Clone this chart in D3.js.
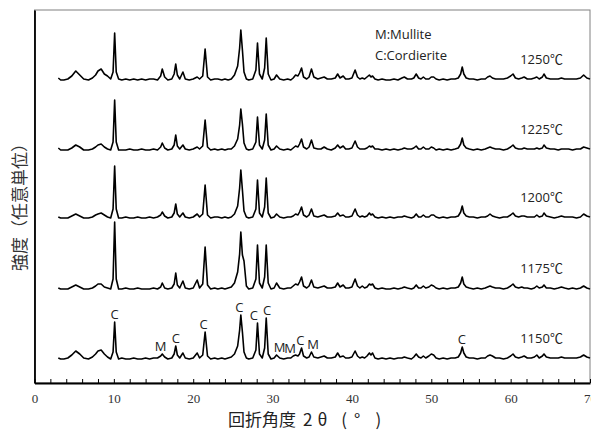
<!DOCTYPE html>
<html>
<head>
<meta charset="utf-8">
<script src="https://cdn.jsdelivr.net/npm/d3@7"></script>
<style>
  body { margin: 0; background: #fff; }
  svg { display: block; }
</style>
</head>
<body>
<svg id="chart"></svg>
<script>
// 2θ sample positions shared by all patterns
const angles = [
  3.0, 3.3, 3.7, 4.2, 4.7, 5.2, 5.7, 6.2, 6.8, 7.3,
  7.7, 8.0, 8.4, 8.8, 9.2, 9.6, 9.9, 10.1, 10.3, 10.6,
  11.0, 11.5, 12.0, 12.5, 13.0, 13.5, 14.0, 14.5, 15.0, 15.5,
  15.9, 16.1, 16.4, 16.8, 17.3, 17.6, 17.8, 18.0, 18.3, 18.7,
  19.0, 19.5, 20.0, 20.5, 20.8, 21.2, 21.5, 21.8, 22.2, 22.7,
  23.1, 23.6, 24.0, 24.4, 24.8, 25.2, 25.6, 25.85, 26.0, 26.2,
  26.4, 26.7, 27.0, 27.5, 27.9, 28.1, 28.35, 28.7, 29.0, 29.2,
  29.45, 29.8, 30.2, 30.5, 30.9, 31.4, 31.9, 32.3, 32.6, 32.9,
  33.2, 33.4, 33.65, 33.9, 34.3, 34.6, 34.9, 35.2, 35.7, 36.1,
  36.5, 36.9, 37.4, 37.9, 38.2, 38.5, 38.9, 39.2, 39.6, 40.0,
  40.4, 40.7, 41.0, 41.3, 41.6, 41.9, 42.2, 42.4, 42.6, 42.9,
  43.3, 43.8, 44.3, 44.8, 45.3, 45.8, 46.3, 46.6, 47.0, 47.5,
  47.8, 48.1, 48.4, 48.7, 49.0, 49.3, 49.7, 50.0, 50.3, 50.6,
  51.0, 51.5, 52.0, 52.5, 53.0, 53.4, 53.7, 53.9, 54.1, 54.4,
  54.8, 55.3, 55.8, 56.3, 56.8, 57.1, 57.4, 57.7, 58.1, 58.6,
  59.1, 59.6, 60.0, 60.3, 60.6, 61.0, 61.4, 61.7, 62.1, 62.6,
  63.0, 63.3, 63.6, 64.0, 64.2, 64.5, 65.0, 65.5, 66.0, 66.4,
  66.8, 67.3, 67.8, 68.3, 68.8, 69.2, 69.6, 70.0
]

// intensity above each pattern's own baseline (arbitrary units)
const i1150 = [
  1, 0, 0, 1, 4, 8, 5, 1, 0, 2,
  5, 8, 9, 5, 2, 0, 7, 37, 7, 0,
  1, 0, 0, 1, 0, 0, 1, 0, 1, 1,
  3, 5, 2, 0, 1, 5, 13, 4, 1, 6,
  1, 0, 1, 6, 1, 4, 27, 3, 0, 1,
  0, 1, 0, 1, 2, 5, 13, 29, 44, 27,
  7, 1, 0, 1, 9, 36, 5, 1, 11, 41,
  5, 0, 1, 4, 1, 0, 1, 1, 3, 4,
  3, 5, 11, 3, 1, 2, 7, 2, 1, 2,
  3, 1, 1, 2, 6, 2, 3, 1, 1, 2,
  8, 3, 1, 2, 1, 3, 6, 4, 6, 1,
  0, 1, 0, 1, 0, 1, 1, 2, 1, 0,
  2, 5, 2, 1, 3, 1, 3, 5, 4, 1,
  0, 1, 0, 1, 1, 2, 6, 12, 6, 2,
  1, 1, 0, 1, 1, 3, 4, 3, 1, 1,
  0, 1, 3, 5, 2, 1, 2, 3, 1, 1,
  2, 4, 1, 3, 5, 2, 1, 1, 1, 2,
  1, 1, 1, 1, 2, 4, 2, 1
]
const i1175 = [
  1, 0, 0, 0, 2, 4, 2, 0, 0, 1,
  3, 5, 5, 2, 1, 0, 10, 67, 10, 0,
  0, 1, 0, 0, 1, 0, 0, 0, 1, 0,
  2, 6, 1, 0, 1, 5, 16, 4, 1, 8,
  1, 0, 1, 9, 1, 5, 42, 4, 0, 1,
  0, 1, 0, 1, 2, 6, 17, 35, 57, 34,
  28, 3, 0, 1, 10, 44, 6, 1, 12, 44,
  6, 0, 1, 6, 1, 0, 1, 1, 3, 5,
  4, 7, 12, 3, 1, 3, 9, 2, 1, 2,
  3, 1, 1, 2, 6, 2, 4, 1, 1, 2,
  10, 3, 1, 3, 1, 2, 5, 4, 5, 1,
  0, 1, 0, 0, 1, 0, 1, 2, 1, 0,
  1, 4, 1, 1, 3, 1, 2, 4, 3, 1,
  0, 1, 0, 1, 1, 2, 6, 12, 5, 2,
  1, 0, 1, 0, 1, 2, 3, 2, 1, 1,
  0, 1, 3, 5, 2, 1, 2, 1, 1, 0,
  1, 3, 1, 2, 4, 1, 1, 0, 1, 2,
  1, 0, 1, 0, 1, 3, 1, 0
]
const i1200 = [
  1, 0, 0, 0, 2, 4, 2, 0, 0, 1,
  3, 4, 5, 3, 1, 0, 9, 52, 9, 0,
  0, 1, 0, 0, 1, 0, 0, 1, 0, 1,
  3, 6, 2, 0, 1, 5, 14, 4, 1, 5,
  1, 0, 1, 4, 1, 4, 33, 3, 0, 1,
  1, 0, 1, 0, 1, 4, 12, 30, 48, 28,
  7, 1, 0, 1, 9, 38, 5, 1, 11, 40,
  5, 0, 1, 4, 1, 0, 1, 1, 2, 4,
  3, 6, 11, 3, 1, 3, 9, 2, 1, 2,
  3, 1, 1, 2, 5, 2, 3, 1, 1, 2,
  9, 3, 1, 2, 1, 2, 5, 3, 4, 1,
  0, 1, 0, 1, 0, 1, 1, 2, 1, 0,
  1, 4, 1, 1, 3, 1, 1, 3, 3, 1,
  0, 1, 0, 1, 1, 2, 6, 12, 5, 2,
  1, 1, 0, 1, 1, 2, 4, 2, 1, 0,
  1, 1, 3, 5, 2, 1, 2, 2, 1, 1,
  1, 3, 1, 2, 5, 2, 1, 0, 1, 2,
  1, 1, 1, 0, 1, 4, 2, 1
]
const i1225 = [
  2, 0, 0, 0, 2, 5, 3, 0, 0, 1,
  3, 5, 6, 3, 1, 0, 8, 50, 8, 0,
  0, 0, 1, 0, 0, 1, 0, 0, 1, 0,
  3, 7, 2, 0, 1, 5, 15, 4, 1, 5,
  1, 0, 1, 3, 1, 4, 30, 3, 0, 1,
  0, 1, 0, 1, 1, 4, 11, 25, 41, 26,
  7, 1, 0, 1, 8, 33, 5, 1, 10, 36,
  5, 0, 1, 4, 1, 0, 1, 0, 2, 4,
  3, 6, 11, 3, 1, 3, 10, 2, 1, 1,
  3, 1, 0, 2, 5, 2, 4, 1, 1, 2,
  9, 3, 1, 1, 1, 2, 4, 3, 4, 1,
  1, 0, 1, 0, 1, 0, 1, 2, 1, 1,
  2, 4, 1, 1, 3, 1, 1, 3, 2, 0,
  1, 0, 1, 0, 1, 2, 6, 12, 5, 2,
  1, 0, 1, 0, 1, 2, 3, 2, 1, 1,
  0, 1, 3, 5, 2, 1, 1, 2, 1, 1,
  1, 2, 1, 2, 5, 2, 1, 1, 0, 1,
  1, 1, 0, 1, 1, 3, 2, 1
]
const i1250 = [
  2, 0, 0, 1, 4, 9, 5, 1, 0, 2,
  5, 9, 11, 6, 4, 1, 8, 47, 8, 1,
  0, 1, 0, 1, 0, 1, 0, 1, 1, 0,
  4, 11, 3, 0, 1, 6, 16, 5, 1, 8,
  1, 0, 1, 3, 1, 4, 31, 3, 0, 1,
  1, 0, 1, 0, 1, 5, 14, 32, 50, 30,
  8, 1, 0, 1, 10, 37, 6, 1, 12, 42,
  6, 0, 1, 5, 1, 0, 1, 0, 2, 5,
  4, 7, 12, 3, 1, 3, 11, 3, 1, 2,
  3, 1, 1, 2, 6, 2, 4, 1, 1, 2,
  10, 3, 1, 2, 1, 3, 5, 3, 4, 1,
  0, 1, 0, 0, 1, 0, 2, 3, 1, 1,
  2, 6, 2, 1, 3, 1, 1, 3, 3, 1,
  0, 1, 0, 1, 1, 2, 6, 13, 6, 2,
  1, 1, 0, 1, 1, 3, 4, 2, 1, 1,
  1, 2, 4, 6, 2, 1, 2, 3, 1, 1,
  2, 3, 1, 3, 6, 2, 1, 1, 1, 2,
  1, 1, 1, 1, 2, 5, 2, 1
]

const temps = ['1150℃', '1175℃', '1200℃', '1225℃', '1250℃']
const patterns = [i1150, i1175, i1200, i1225, i1250]
// vertical stacking offset of each pattern (same units as intensity)
const offsets = [24, 94, 165, 233, 303]

// phase marks on the 1150℃ pattern
const markText = ['C', 'M', 'C', 'C', 'C', 'C', 'C', 'M', 'M', 'C', 'M', 'C']
const markAngle = [10.1, 15.9, 17.8, 21.3, 25.8, 27.65, 29.3, 30.9, 32.2, 33.5, 35.1, 53.85]

const legendLines = ['M:Mullite', 'C:Cordierite']
const xTicks = d3.range(0, 71, 2)

const width = 591
const height = 430
const margin = { top: 10, left: 34.5, right: 1, bottom: 47 }

const svg = d3.select('#chart').attr('width', width).attr('height', height)

const x = d3.scaleLinear().domain([0, 70]).range([margin.left, width - margin.right])
const y = d3.scaleLinear().domain([0, 373]).range([height - margin.bottom, margin.top])

// frame (top/right in grey)
svg.append('rect')
  .attr('x', margin.left)
  .attr('y', margin.top)
  .attr('width', x(70) - margin.left)
  .attr('height', y(0) - margin.top)
  .attr('fill', 'none')
  .attr('stroke', '#808080')
  .attr('stroke-width', 1)

const line = d3.line()
  .x((d) => x(d[0]))
  .y((d) => y(d[1]))

patterns.forEach((p, k) => {
  const pts = angles.map((a, i) => [a, offsets[k] + p[i]])
  svg.append('path')
    .datum(pts)
    .attr('fill', 'none')
    .attr('stroke', '#000')
    .attr('stroke-width', 1.6)
    .attr('stroke-linejoin', 'round')
    .attr('d', line)

  svg.append('text')
    .attr('x', x(61.2))
    .attr('y', y(offsets[k]) - 21)
    .attr('dominant-baseline', 'central')
    .style('font', '13px "Open Sans", "Noto Sans CJK JP", sans-serif')
    .style('fill', '#222')
    .text(temps[k])
})

// peak marks, sitting just above the nearest peak of the 1150℃ pattern
const peakAt = (a) => d3.max(angles.map((v, i) => (Math.abs(v - a) < 0.51 ? i1150[i] : 0)))
svg.append('g')
  .selectAll('text')
  .data(markText)
  .enter()
  .append('text')
  .attr('x', (d, i) => x(markAngle[i]))
  .attr('y', (d, i) => y(offsets[0] + peakAt(markAngle[i])) - 3)
  .attr('text-anchor', 'middle')
  .style('font', '13px "Open Sans", sans-serif')
  .style('fill', '#222')
  .text((d) => d)

// legend
svg.append('g')
  .selectAll('text')
  .data(legendLines)
  .enter()
  .append('text')
  .attr('x', 375)
  .attr('y', (d, i) => 34 + i * 21)
  .attr('dominant-baseline', 'central')
  .style('font', '13px "Open Sans", sans-serif')
  .style('fill', '#222')
  .text((d) => d)

// axes
const axisX = d3.axisBottom(x)
  .tickValues(xTicks)
  .tickSize(-4)
  .tickSizeOuter(0)
  .tickPadding(11)
  .tickFormat((d) => (d % 10 === 0 ? d : ''))

const gx = svg.append('g')
  .attr('transform', `translate(0,${y(0)})`)
  .call(axisX)
gx.select('.domain').attr('stroke', '#000').attr('stroke-width', 1.8)
gx.selectAll('.tick line').attr('stroke', '#000').attr('stroke-width', 1)
gx.selectAll('.tick text')
  .style('font', '13px "Liberation Serif", "DejaVu Serif", serif')
  .style('fill', '#333')

const gy = svg.append('g')
  .attr('transform', `translate(${margin.left},0)`)
  .call(d3.axisLeft(y).tickValues([]).tickSizeOuter(0))
gy.select('.domain').attr('stroke', '#000').attr('stroke-width', 1.8)

// titles
const xTitle = svg.append('text')
  .attr('x', 228)
  .attr('y', 418)
  .attr('dominant-baseline', 'central')
  .style('font', '17px "Noto Sans CJK JP", sans-serif')
  .style('fill', '#222')
xTitle.append('tspan').text('回折角度')
xTitle.append('tspan').attr('dx', 7).text('2')
xTitle.append('tspan').attr('dx', 5).text('θ')
xTitle.append('tspan').attr('dx', 14).text('(')
xTitle.append('tspan').attr('dx', 7).text('°')
xTitle.append('tspan').attr('dx', 15).text(')')

svg.append('text')
  .attr('transform', 'translate(18,203) rotate(-90)')
  .attr('text-anchor', 'middle')
  .attr('dominant-baseline', 'central')
  .style('font', '17px "Noto Sans CJK JP", sans-serif')
  .style('fill', '#333')
  .text('強度（任意単位）')
</script>
</body>
</html>
